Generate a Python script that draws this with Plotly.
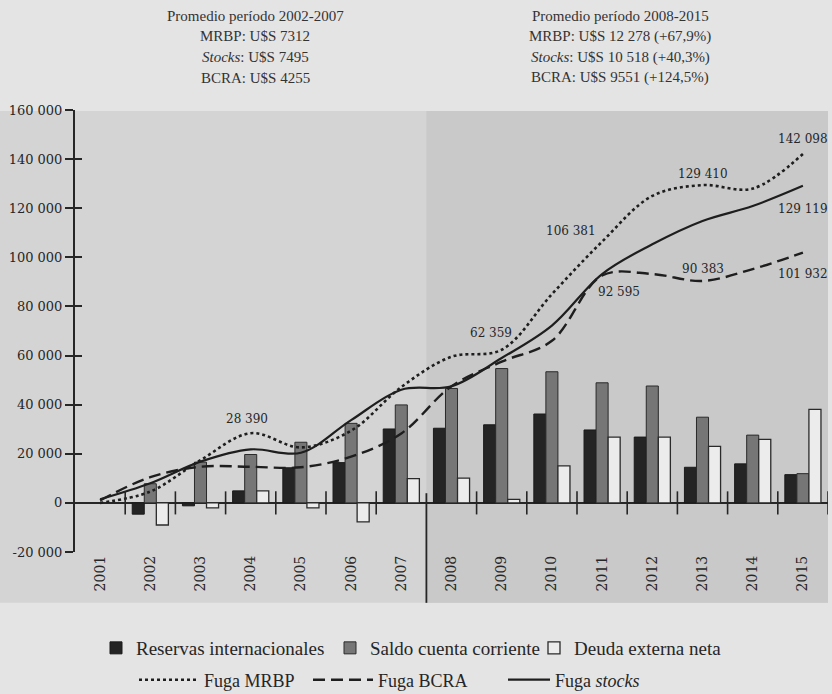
import plotly.graph_objects as go

years = [str(y) for y in range(2001, 2016)]

reservas = [None, -4600, -1200, 4900, 14300, 16400, 30100, 30400, 31800, 36200, 29700, 26800, 14500, 15900, 11500]
saldo = [None, 7800, 16600, 19700, 24700, 32400, 39900, 46600, 54700, 53400, 48900, 47600, 34900, 27600, 11900]
deuda = [None, -9000, -2000, 4900, -2000, -7700, 9900, 10100, 1400, 15100, 26800, 26800, 23000, 25900, 38100]

fuga_mrbp = [0, 4600, 17400, 28390, 22600, 29400, 47200, 59500, 62359, 85000, 106381, 125000, 129410, 128000, 142098]
fuga_bcra = [1000, 10500, 14700, 14700, 14500, 18800, 28300, 47500, 57500, 66000, 92595, 93200, 90383, 95200, 101932]
fuga_stocks = [1500, 8000, 16800, 21800, 20400, 33700, 46100, 47500, 59000, 72200, 93200, 105300, 114800, 120900, 129119]

ytick_vals = [-20000, 0, 20000, 40000, 60000, 80000, 100000, 120000, 140000, 160000]
ytick_text = ["-20 000", "0", "20 000", "40 000", "60 000", "80 000", "100 000", "120 000", "140 000", "160 000"]

header_left = ["Promedio período 2002-2007", "MRBP: U$S 7312", "<i>Stocks</i>: U$S 7495", "BCRA: U$S 4255"]
header_right = ["Promedio período 2008-2015", "MRBP: U$S 12 278 (+67,9%)",
                "<i>Stocks</i>: U$S 10 518 (+40,3%)", "BCRA: U$S 9551 (+124,5%)"]

# value labels: (series, year index, anchor, xshift, yshift)
value_labels = [
    (fuga_mrbp, 3, "center", -4, 14), (fuga_mrbp, 8, "center", -11, 17), (fuga_mrbp, 10, "center", -31, 11),
    (fuga_mrbp, 12, "center", 0, 11), (fuga_mrbp, 14, "right", 27, 15),
    (fuga_stocks, 14, "right", 27, -23),
    (fuga_bcra, 10, "center", 17, -16), (fuga_bcra, 12, "center", 0, 12), (fuga_bcra, 14, "right", 27, -21),
]

SERIF = "Liberation Serif"
NUMF = "DejaVu Serif"
INK = "#262626"

fig = go.Figure()
fig.add_trace(go.Bar(x=years, y=reservas, name="Reservas internacionales",
                     marker=dict(color="#242424", line=dict(color="#1a1a1a", width=1)), legend="legend"))
fig.add_trace(go.Bar(x=years, y=saldo, name="Saldo cuenta corriente",
                     marker=dict(color="#767676", line=dict(color="#2a2a2a", width=1)), legend="legend2"))
fig.add_trace(go.Bar(x=years, y=deuda, name="Deuda externa neta",
                     marker=dict(color="#ececec", line=dict(color="#2a2a2a", width=1.3)), legend="legend3"))

fig.add_trace(go.Scatter(x=years, y=fuga_mrbp, name="Fuga MRBP", mode="lines",
                         line=dict(color="#1e1e1e", width=2.6, dash="dot", shape="spline", smoothing=1.0),
                         legend="legend4"))
fig.add_trace(go.Scatter(x=years, y=fuga_bcra, name="Fuga BCRA", mode="lines",
                         line=dict(color="#1e1e1e", width=2.4, dash="12px,6px", shape="spline", smoothing=1.0),
                         legend="legend5"))
fig.add_trace(go.Scatter(x=years, y=fuga_stocks, name="Fuga <i>stocks</i>", mode="lines",
                         line=dict(color="#1e1e1e", width=2.2, shape="spline", smoothing=1.0),
                         legend="legend6"))

shapes = []
shapes.append(dict(type="rect", xref="paper", yref="paper", x0=-0.1, x1=1.0, y0=-0.115, y1=0.998,
                   fillcolor="#d4d4d4", line=dict(width=0), layer="below"))
shapes.append(dict(type="rect", xref="x", yref="paper", x0=6.5, x1=14.5, y0=-0.115, y1=0.998,
                   fillcolor="#c9c9c9", line=dict(width=0), layer="below"))
for i in range(15):
    b = i + 0.5
    if b == 6.5:
        continue
    shapes.append(dict(type="line", xref="x", yref="y", x0=b, x1=b, y0=-4700, y1=4700,
                       line=dict(color=INK, width=1.6)))
shapes.append(dict(type="line", xref="x", yref="paper", x0=6.5, x1=6.5, y0=-0.115, y1=0.133,
                   line=dict(color=INK, width=1.8)))

annotations = []
for s, i, anc, dx, dy in value_labels:
    v = s[i]
    annotations.append(dict(x=i, y=v, xref="x", yref="y", text=f"{v:,}".replace(",", " "),
                            showarrow=False, xanchor=anc, xshift=dx, yshift=dy,
                            font=dict(family=NUMF, size=12, color=INK)))

header_y = [1.2127, 1.1663, 1.1199, 1.0724]
for k, t in enumerate(header_left):
    annotations.append(dict(x=(255 - 75) / 753, y=header_y[k], xref="paper", yref="paper", text=t,
                            showarrow=False, xanchor="center", yanchor="middle",
                            font=dict(family=SERIF, size=15, color="#333")))
for k, t in enumerate(header_right):
    annotations.append(dict(x=(620 - 75) / 753, y=header_y[k], xref="paper", yref="paper", text=t,
                            showarrow=False, xanchor="center", yanchor="middle",
                            font=dict(family=SERIF, size=15, color="#333")))

def leg(xpx, ypx, iw, size=19):
    return dict(orientation="h", x=(xpx - 75) / 753, y=(552 - ypx) / 442, xanchor="left", yanchor="middle",
                bgcolor="rgba(0,0,0,0)", font=dict(family=SERIF, size=size, color=INK), itemwidth=iw)

fig.update_layout(
    width=832, height=694,
    margin=dict(l=75, r=4, t=110, b=142, autoexpand=False),
    paper_bgcolor="#e4e4e4", plot_bgcolor="rgba(0,0,0,0)",
    barmode="group", bargap=0.28, bargroupgap=0,
    font=dict(family=SERIF, color=INK),
    shapes=shapes, annotations=annotations,
    xaxis=dict(type="category", showline=False, ticks="", showgrid=False, zeroline=False,
               tickangle=-90, tickfont=dict(family=NUMF, size=14, color=INK), range=[-0.5, 14.5]),
    yaxis=dict(range=[-20000, 160000], tickvals=ytick_vals, ticktext=ytick_text,
               showgrid=False, zeroline=True, zerolinecolor=INK, zerolinewidth=2,
               showline=True, linecolor=INK, linewidth=2, ticks="outside", ticklen=8, tickwidth=1.6,
               tickcolor=INK, tickfont=dict(family=NUMF, size=13, color=INK)),
    yaxis2=dict(range=[-20000, 160000], tickvals=ytick_vals, overlaying="y", anchor="x", side="left",
                showgrid=False, zeroline=False, showline=False, ticks="inside", ticklen=7,
                tickwidth=1.6, tickcolor=INK, showticklabels=False),
    legend=leg(96, 648, 30),
    legend2=leg(330, 648, 30),
    legend3=leg(534, 648, 30),
    legend4=leg(134, 680, 60, 18),
    legend5=leg(308, 680, 60, 18),
    legend6=leg(503, 680, 42, 18),
)
fig.add_trace(go.Scatter(x=[years[0]], y=[None], yaxis="y2", showlegend=False, hoverinfo="skip"))

fig.write_html("out.html", config={"displayModeBar": False},
               post_script="document.body.style.margin='0';")
